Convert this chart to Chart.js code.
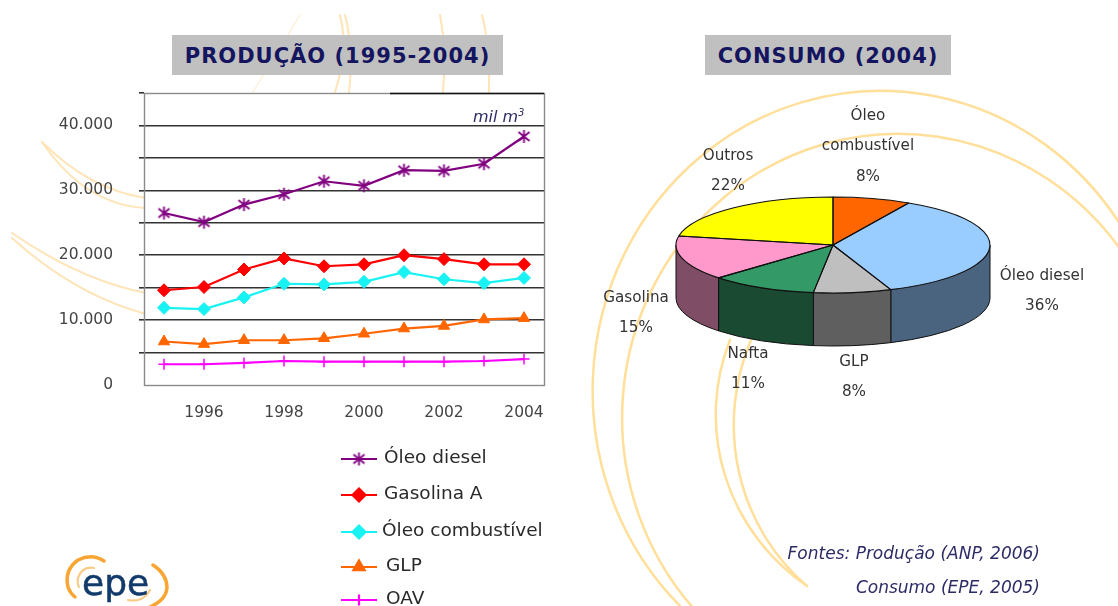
<!DOCTYPE html>
<html lang="pt"><head><meta charset="utf-8">
<script src="https://cdn.jsdelivr.net/npm/chart.js@4/dist/chart.umd.js"></script>
<style>
html,body{margin:0;padding:0;background:#fff;width:1118px;height:606px;overflow:hidden}
#stage{position:relative;width:1118px;height:606px;overflow:hidden;filter:blur(.35px)}
#bg{position:absolute;left:0;top:0}
.cv{position:absolute;top:0}
.box{position:absolute;background:#c0c0c0;color:#14145f;font:bold 21px "DejaVu Sans",sans-serif;letter-spacing:1px;display:flex;align-items:center;justify-content:center;white-space:nowrap;height:40px;top:35px;padding-top:2px;box-sizing:border-box}
.note{position:absolute;color:#2b2b66;font:italic 17px "DejaVu Sans",sans-serif;white-space:nowrap;text-align:right;right:78px;line-height:20px}
sup{font-size:60%;line-height:0}
</style></head><body>
<div id="stage">
<svg id="bg" width="1118" height="606" xmlns="http://www.w3.org/2000/svg"></svg>
<canvas id="lineChart" class="cv" style="left:0"></canvas>
<canvas id="pieChart" class="cv" style="left:560px"></canvas>
<div class="box" style="left:172px;width:331px">PRODUÇÃO (1995-2004)</div>
<div class="box" style="left:705px;width:246px">CONSUMO (2004)</div>
<div class="note" style="left:473px;right:auto;top:107px;font-size:16px">mil m<sup>3</sup></div>
<div class="note" style="top:543px">Fontes: Produção (ANP, 2006)</div>
<div class="note" style="top:577px">Consumo (EPE, 2005)</div>
</div>
<script>
// ---------- data ----------
const years = ['1995','1996','1997','1998','1999','2000','2001','2002','2003','2004'];
const oleoDiesel = [26500,25100,27800,29400,31400,30700,33100,33000,34100,38300];
const gasolinaA = [14600,15100,17800,19500,18300,18600,20000,19400,18600,18600];
const oleoCombustivel = [11900,11700,13500,15600,15500,15900,17400,16300,15700,16500];
const glp = [6700,6300,6900,6900,7200,7900,8700,9100,10100,10300];
const oav = [3200,3200,3400,3700,3600,3600,3600,3600,3700,4000];
const seriesNames = ['Óleo diesel','Gasolina A','Óleo combustível','GLP','OAV'];
const pieCategories = ['Óleo combustível','Óleo diesel','GLP','Nafta','Gasolina','Outros'];
const pieValues = [8,36,8,11,15,22];

// ---------- styles / layout ----------
const FONT = '"DejaVu Sans",sans-serif';
const pieTop = ['#ff6600','#99ccff','#bfbfbf','#339966','#ff99cc','#ffff00'];
const pieSide = ['#803300','#4a6480','#5f5f5f','#1a4a32','#804d66','#808000'];
const pieLabelLayout = [
  {lines:['Óleo','combustível'],x:868,y:116},
  {lines:['Óleo diesel'],x:1042,y:276},
  {lines:['GLP'],x:854,y:362},
  {lines:['Nafta'],x:748,y:354},
  {lines:['Gasolina'],x:636,y:298},
  {lines:['Outros'],x:728,y:156}
];
const legendRows = [{y:459,x:384},{y:495,x:384},{y:532,x:382},{y:567,x:386},{y:600,x:386}];

// decorative background rings (SVG paths)
const RING='#ffdf9a', SOFT='#ffe4b8';
const rings = [
 {c:RING,w:2.5,d:'M1125 232 A288 300 0 1 0 680 606'},
 {c:RING,w:2.5,d:'M1125 256 A276 284 0 1 0 695 610'},
 {c:RING,w:2.5,d:'M730 340 A217 210 0 0 0 807 586'},
 {c:RING,w:2.5,d:'M751 340 A200 208.5 0 0 0 807 586'},
 {c:SOFT,w:2,d:'M42 142 Q90 190 146 198'},
 {c:SOFT,w:2,d:'M42 142 Q85 205 146 208'},
 {c:SOFT,w:2,d:'M12 233 Q80 280 146 293'},
 {c:SOFT,w:2,d:'M12 238 Q75 295 146 314'},
 {c:'#fff1dc',w:1.5,d:'M300 15 L253 92'},
 {c:SOFT,w:2,d:'M340 15 Q349 50 335 92'},
 {c:SOFT,w:2,d:'M345 15 Q354 50 349 92'},
 {c:SOFT,w:2,d:'M440 15 Q447 50 443 92'},
 {c:SOFT,w:2,d:'M482 15 Q490 45 489 92'},
 // logo
 {c:'#f9a533',w:3.5,d:'M104 561 Q92 553 78 560 Q64 570 68 587 Q70 593 75 597'},
 {c:'#fbcb86',w:2.2,d:'M94 568 Q82 566 78 578 Q77 584 79 587'},
 {c:'#f9a533',w:3.5,d:'M153 565 Q167 574 167 588 Q166 600 150 607'},
 {c:'#fbcb86',w:2.2,d:'M150 590 Q146 598 138 600 Q132 601 128 600'}
];
const svg=document.getElementById('bg');
rings.forEach(r=>{
  const el=document.createElementNS('http://www.w3.org/2000/svg','path');
  el.setAttribute('d',r.d);el.setAttribute('fill','none');
  el.setAttribute('stroke',r.c);el.setAttribute('stroke-width',r.w);el.setAttribute('stroke-linecap','round');
  svg.appendChild(el);
});
const logo=document.createElementNS('http://www.w3.org/2000/svg','text');
logo.setAttribute('x','82');logo.setAttribute('y','595');logo.setAttribute('fill','#123a6b');
logo.setAttribute('font-family','DejaVu Sans');logo.setAttribute('font-size','36');logo.setAttribute('stroke','#123a6b');logo.setAttribute('stroke-width','.5');
logo.textContent='epe';svg.appendChild(logo);

// asterisk marker for the diesel series
function starMarker(color){
  const c=document.createElement('canvas');c.width=c.height=15;
  const x=c.getContext('2d');x.strokeStyle=color;x.lineWidth=1.8;x.beginPath();
  x.moveTo(7.5,1);x.lineTo(7.5,14);
  x.moveTo(2,3);x.lineTo(13,12);
  x.moveTo(13,3);x.lineTo(2,12);
  x.stroke();return c;
}
const seriesStyle=[
 {color:'#800080',point:starMarker('#800080'),radius:7,bw:1},
 {color:'#ff0000',point:'rectRot',radius:6.5,bw:1},
 {color:'#19f2f2',point:'rectRot',radius:6.5,bw:1},
 {color:'#ff6600',point:'triangle',radius:6.5,bw:1},
 {color:'#ff00ff',point:'cross',radius:5.5,bw:1.5}
];
const seriesData=[oleoDiesel,gasolinaA,oleoCombustivel,glp,oav];

// ---------- line chart ----------
const plotFrame={
  id:'plotFrame',
  beforeDraw(ch){
    const a=ch.chartArea,c=ch.ctx;c.save();c.fillStyle='#fff';c.fillRect(a.left,a.top,a.width,a.height);c.restore();
  },
  afterDraw(ch){
    const a=ch.chartArea,c=ch.ctx;c.save();
    c.strokeStyle='#8a8a8a';c.lineWidth=1.4;c.strokeRect(a.left+.5,a.top+.5,a.width,a.height);
    c.strokeStyle='#111';c.lineWidth=1.6;c.beginPath();c.moveTo(a.left+a.width*.615,a.top+.5);c.lineTo(a.right,a.top+.5);c.stroke();
    c.restore();
    // legend
    c.save();c.textBaseline='middle';c.textAlign='left';c.font='18.5px '+FONT;
    ch.data.datasets.forEach((d,i)=>{
      const r=legendRows[i],s=seriesStyle[i];
      c.strokeStyle=s.color;c.fillStyle=s.color;c.lineWidth=2.2;
      c.beginPath();c.moveTo(341,r.y);c.lineTo(377,r.y);c.stroke();
      Chart.helpers.drawPoint(c,{pointStyle:s.point,radius:s.radius,rotation:0,borderWidth:s.bw},359,r.y);
      c.fillStyle='#2a2a2a';c.fillText(d.label,r.x,r.y-1);
    });
    c.restore();
  }
};
Chart.defaults.font.family=FONT;
const lc=document.getElementById('lineChart');lc.width=560;lc.height=606;
new Chart(lc,{
  type:'line',
  data:{labels:years,datasets:seriesData.map((v,i)=>({
    label:seriesNames[i],data:v,borderColor:seriesStyle[i].color,backgroundColor:seriesStyle[i].color,
    borderWidth:2.2,tension:0,pointStyle:seriesStyle[i].point,pointRadius:seriesStyle[i].radius,
    pointHoverRadius:seriesStyle[i].radius,pointBorderWidth:seriesStyle[i].bw,
    pointBackgroundColor:seriesStyle[i].color,pointBorderColor:seriesStyle[i].color,clip:false
  }))},
  options:{
    responsive:false,animation:false,
    layout:{padding:{top:93,right:16,left:0,bottom:0}},
    plugins:{legend:{display:false},title:{display:false},tooltip:{enabled:false}},
    scales:{
      x:{
        offset:true,
        afterFit(s){s.height=221;s.paddingRight=0;s.paddingLeft=0;},
        grid:{display:false,drawTicks:false,offset:true},border:{display:false},
        ticks:{autoSkip:false,maxRotation:0,color:'#444',font:{size:15.5},padding:19,
          callback(v,i){return i%2===1?this.getLabelForValue(v):'';}}
      },
      y:{
        min:0,max:45000,
        afterFit(s){s.width=144;},
        grid:{color:c=>(c.tick.value===0||c.tick.value===45000)?'rgba(0,0,0,0)':'#333',lineWidth:1.6,tickLength:5,tickColor:c=>c.tick.value===0?'rgba(0,0,0,0)':'#333',drawTicks:true},
        border:{display:false},
        ticks:{stepSize:5000,color:'#444',font:{size:15.5},padding:26,
          callback(v){return (v%10000===0&&v<45000)?(v===0?'0':(v/1000)+'.000'):'';}}
      }
    }
  },
  plugins:[plotFrame]
});

// ---------- 3D-look pie ----------
const TILT=48/157, DEPTH=53, TOP_CY=245;
function frontRange(el){
  const a0=Math.max(el.startAngle,0),a1=Math.min(el.endAngle,Math.PI);
  return a1>a0?[a0,a1]:null;
}
const pie3d={
  id:'pie3d',
  beforeDatasetsDraw(ch){
    const c=ch.ctx,els=ch.getDatasetMeta(0).data;
    c.save();c.strokeStyle='#111';c.lineWidth=1;
    els.forEach((el,i)=>{
      const r=frontRange(el);if(!r)return;
      const rx=el.outerRadius,ry=rx*TILT;
      c.beginPath();
      c.ellipse(el.x,TOP_CY,rx,ry,0,r[0],r[1]);
      c.lineTo(el.x+rx*Math.cos(r[1]),TOP_CY+ry*Math.sin(r[1])+DEPTH);
      c.ellipse(el.x,TOP_CY+DEPTH,rx,ry,0,r[1],r[0],true);
      c.closePath();c.fillStyle=pieSide[i];c.fill();c.stroke();
    });
    c.restore();
    const cy=els[0].y;
    c.save();c.translate(0,TOP_CY);c.scale(1,TILT);c.translate(0,-cy);
  },
  afterDatasetsDraw(ch){
    const c=ch.ctx,els=ch.getDatasetMeta(0).data;
    c.restore();
    c.save();c.strokeStyle='#111';c.lineWidth=1.1;c.lineJoin='round';
    els.forEach(el=>{
      const rx=el.outerRadius,ry=rx*TILT;
      c.beginPath();c.moveTo(el.x,TOP_CY);
      c.ellipse(el.x,TOP_CY,rx,ry,0,el.startAngle,el.endAngle);
      c.closePath();c.stroke();
    });
    c.restore();
    // labels
    const dx=ch.canvas.offsetLeft;
    c.save();c.font='15.2px '+FONT;c.fillStyle='#333';c.textAlign='center';c.textBaseline='middle';
    pieLabelLayout.forEach((l,i)=>{
      const step=30.5;
      l.lines.concat([pieValues[i]+'%']).forEach((t,k)=>c.fillText(t,l.x-dx,l.y+k*step));
    });
    c.restore();
  }
};
const pc=document.getElementById('pieChart');pc.width=558;pc.height=606;
new Chart(pc,{
  type:'pie',
  data:{labels:pieCategories,datasets:[{data:pieValues,backgroundColor:pieTop,borderWidth:0,clip:false}]},
  options:{
    responsive:false,animation:false,
    layout:{padding:{left:116,right:128,top:100,bottom:192}},
    plugins:{legend:{display:false},title:{display:false},tooltip:{enabled:false}}
  },
  plugins:[pie3d]
});
</script>
</body></html>
